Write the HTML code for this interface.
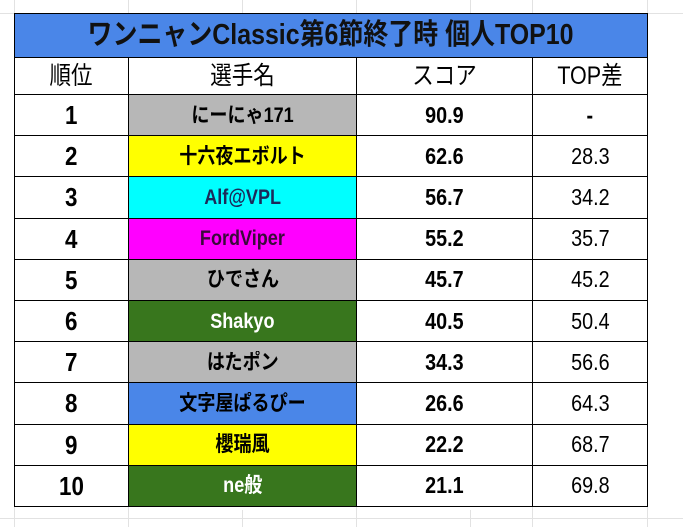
<!DOCTYPE html>
<html><head><meta charset="utf-8"><style>
html,body{margin:0;padding:0;background:#fff;width:683px;height:527px;overflow:hidden;position:relative;font-family:"Liberation Sans","Noto Sans CJK JP",sans-serif;}
.g{position:absolute;background:#e2e2e2;}
table{position:absolute;left:14px;top:13px;border-collapse:collapse;}
td{border:1.5px solid #000;text-align:center;padding:0;color:#000;line-height:1;}
td span{display:inline-block;transform:scaleX(0.86);white-space:nowrap;}
.t{background:#4a86e8;height:43px;font-size:29px;font-weight:bold;color:#111;}
.h td{height:36px;font-size:25px;}
.r td{height:40.2px;font-size:23px;font-weight:bold;}
.r td:first-child{font-size:26px;}
.r td:nth-child(2){font-size:21px;}
.r td:last-child{font-weight:normal;}
</style></head><body>
<div class="g" style="left:0;top:13px;width:683px;height:1px"></div>
<div class="g" style="left:0;top:518px;width:683px;height:1px"></div>
<div class="g" style="left:242px;top:0;width:1px;height:13px"></div>
<div class="g" style="left:470px;top:0;width:1px;height:13px"></div>
<div class="g" style="left:128px;top:0;width:1px;height:527px"></div>
<div class="g" style="left:356px;top:0;width:1px;height:527px"></div>
<div class="g" style="left:532px;top:0;width:1px;height:527px"></div>
<div class="g" style="left:647px;top:0;width:1px;height:527px"></div>
<div class="g" style="left:14px;top:0;width:1px;height:527px"></div>
<div class="g" style="left:242px;top:510px;width:1px;height:17px"></div>
<div class="g" style="left:470px;top:510px;width:1px;height:17px"></div>
<table>
<tr><td class="t" colspan="4"><span>ワンニャンClassic第6節終了時 個人TOP10</span></td></tr>
<tr class="h"><td style="width:113px"><span>順位</span></td><td style="width:227px"><span>選手名</span></td><td style="width:175px"><span>スコア</span></td><td style="width:114px"><span>TOP差</span></td></tr>
<tr class="r"><td><span>1</span></td><td style="background:#b7b7b7"><span>にーにゃ171</span></td><td><span>90.9</span></td><td style="font-weight:bold"><span>-</span></td></tr>
<tr class="r"><td><span>2</span></td><td style="background:#ffff00"><span>十六夜エボルト</span></td><td><span>62.6</span></td><td><span>28.3</span></td></tr>
<tr class="r"><td><span>3</span></td><td style="background:#00ffff;color:#1c2a5a"><span>Alf@VPL</span></td><td><span>56.7</span></td><td><span>34.2</span></td></tr>
<tr class="r"><td><span>4</span></td><td style="background:#ff00ff;color:#3a0a3a"><span>FordViper</span></td><td><span>55.2</span></td><td><span>35.7</span></td></tr>
<tr class="r"><td><span>5</span></td><td style="background:#b7b7b7"><span>ひでさん</span></td><td><span>45.7</span></td><td><span>45.2</span></td></tr>
<tr class="r"><td><span>6</span></td><td style="background:#38761d;color:#fff"><span>Shakyo</span></td><td><span>40.5</span></td><td><span>50.4</span></td></tr>
<tr class="r"><td><span>7</span></td><td style="background:#b7b7b7"><span>はたポン</span></td><td><span>34.3</span></td><td><span>56.6</span></td></tr>
<tr class="r"><td><span>8</span></td><td style="background:#4a86e8"><span>文字屋ぱるぴー</span></td><td><span>26.6</span></td><td><span>64.3</span></td></tr>
<tr class="r"><td><span>9</span></td><td style="background:#ffff00"><span>櫻瑞風</span></td><td><span>22.2</span></td><td><span>68.7</span></td></tr>
<tr class="r"><td><span>10</span></td><td style="background:#38761d;color:#fff"><span>ne般</span></td><td><span>21.1</span></td><td><span>69.8</span></td></tr>
</table>
</body></html>
